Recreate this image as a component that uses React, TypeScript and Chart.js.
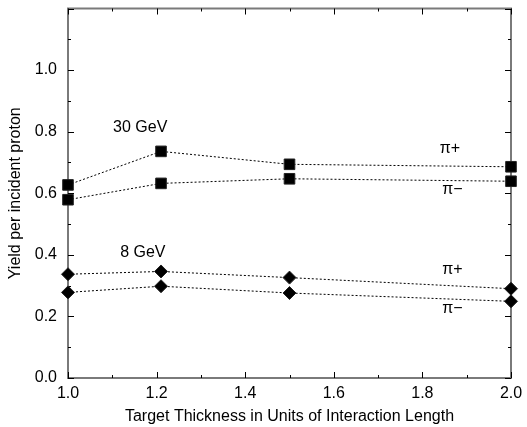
import React, { useEffect, useRef } from "react";
import { Chart, registerables } from "chart.js";

Chart.register(...registerables);

const THICKNESS = [1.0, 1.21, 1.5, 2.0];
const PIPLUS_30 = [0.627, 0.736, 0.694, 0.686];
const PIMINUS_30 = [0.579, 0.632, 0.647, 0.639];
const PIPLUS_8 = [0.337, 0.346, 0.326, 0.29];
const PIMINUS_8 = [0.278, 0.298, 0.276, 0.249];

const X_MAJOR = [1.0, 1.2, 1.4, 1.6, 1.8, 2.0];
const X_MINOR = [1.1, 1.3, 1.5, 1.7, 1.9];
const Y_MAJOR = [0.0, 0.2, 0.4, 0.6, 0.8, 1.0, 1.2];
const Y_MINOR = [0.1, 0.3, 0.5, 0.7, 0.9, 1.1];
const Y_LABELS = ["0.0", "0.2", "0.4", "0.6", "0.8", "1.0", ""];

const ANNOT_TEXT = ["30 GeV", "8 GeV", "π+", "π−", "π+", "π−"];
const ANNOT_X = [1.163, 1.169, 1.862, 1.868, 1.868, 1.868];
const ANNOT_Y = [0.812, 0.408, 0.744, 0.612, 0.353, 0.227];

const FONT = "'Liberation Sans', Arial, Helvetica, sans-serif";

function mk(values: number[], style: string, radius: number) {
  return {
    data: THICKNESS.map((x, i) => ({ x, y: values[i] })),
    showLine: true,
    borderColor: "#000",
    borderWidth: 1,
    borderDash: [2, 2],
    pointStyle: style,
    pointRadius: radius,
    pointBackgroundColor: "#000",
    pointBorderColor: "#222",
    pointBorderWidth: 1,
    clip: false,
  };
}

const framePlugin = {
  id: "frame",
  beforeDatasetsDraw(chart: any) {
    const { ctx, chartArea } = chart;
    const { left, right, top, bottom } = chartArea;
    const xs = chart.scales.x;
    const ys = chart.scales.y;
    ctx.save();
    ctx.strokeStyle = "#7a7a7a";
    ctx.lineWidth = 2;
    ctx.strokeRect(left, top, right - left, bottom - top);
    ctx.strokeStyle = "#000";
    ctx.lineWidth = 1;
    const tick = (x1: number, y1: number, x2: number, y2: number) => {
      ctx.beginPath();
      ctx.moveTo(x1, y1);
      ctx.lineTo(x2, y2);
      ctx.stroke();
    };
    for (const [vals, len] of [[X_MAJOR, 6], [X_MINOR, 3]] as [number[], number][]) {
      for (const v of vals) {
        const px = Math.round(xs.getPixelForValue(v)) + 0.5;
        tick(px, bottom, px, bottom - len);
        tick(px, top, px, top + len);
      }
    }
    for (const [vals, len] of [[Y_MAJOR, 6], [Y_MINOR, 3]] as [number[], number][]) {
      for (const v of vals) {
        const py = Math.round(ys.getPixelForValue(v)) + 0.5;
        tick(left, py, left + len, py);
        tick(right, py, right - len, py);
      }
    }
    ctx.restore();
  },
  afterDatasetsDraw(chart: any) {
    const { ctx } = chart;
    const xs = chart.scales.x;
    const ys = chart.scales.y;
    ctx.save();
    ctx.fillStyle = "#000";
    ctx.font = `16px ${FONT}`;
    ctx.textAlign = "center";
    ctx.textBaseline = "middle";
    ANNOT_TEXT.forEach((t, i) => {
      ctx.fillText(t, xs.getPixelForValue(ANNOT_X[i]), ys.getPixelForValue(ANNOT_Y[i]));
    });
    ctx.restore();
  },
};

export default function App() {
  const ref = useRef<HTMLCanvasElement>(null);
  useEffect(() => {
    if (!ref.current) return;
    const chart = new Chart(ref.current, {
      type: "scatter",
      data: {
        datasets: [
          mk(PIPLUS_30, "rect", 7.5),
          mk(PIMINUS_30, "rect", 7.5),
          mk(PIPLUS_8, "rectRot", 6.5),
          mk(PIMINUS_8, "rectRot", 6.5),
        ] as any,
      },
      options: {
        animation: false,
        responsive: false,
        layout: { padding: { top: 7, right: 16, left: 0, bottom: 0 } },
        plugins: { legend: { display: false }, tooltip: { enabled: false } },
        scales: {
          x: {
            type: "linear",
            min: 1,
            max: 2,
            grid: { display: false, drawTicks: false, tickLength: 0 },
            border: { display: false },
            ticks: {
              stepSize: 0.2,
              padding: 6,
              color: "#000",
              font: { size: 16, family: FONT },
              maxRotation: 0,
              callback: (v: any) => Number(v).toFixed(1),
            },
            title: {
              display: true,
              text: "Target Thickness in Units of Interaction Length",
              color: "#000",
              font: { size: 16, family: FONT },
              padding: { top: 1, bottom: 1 },
            },
            afterFit: (s: any) => {
              s.height = 49;
              s.paddingLeft = 0;
              s.paddingRight = 0;
            },
          },
          y: {
            type: "linear",
            min: 0,
            max: 1.2,
            grid: { display: false, drawTicks: false, tickLength: 0 },
            border: { display: false },
            ticks: {
              stepSize: 0.2,
              padding: 11,
              color: "#000",
              font: { size: 16, family: FONT },
              callback: (v: any) => {
                const i = Y_MAJOR.findIndex((m) => Math.abs(m - Number(v)) < 1e-6);
                return i >= 0 ? Y_LABELS[i] : "";
              },
            },
            title: {
              display: true,
              text: "Yield per incident proton",
              color: "#000",
              font: { size: 16, family: FONT },
              padding: { top: 6.4, bottom: 6.4 },
            },
            afterFit: (s: any) => {
              s.width = 68;
              s.paddingTop = 0;
              s.paddingBottom = 0;
            },
          },
        },
      } as any,
      plugins: [framePlugin],
    });
    return () => chart.destroy();
  }, []);
  return (
    <div style={{ position: "absolute", left: 0, top: 0, width: 527, height: 427, background: "#fff" }}>
      <canvas ref={ref} width={527} height={427} style={{ display: "block" }} />
    </div>
  );
}
